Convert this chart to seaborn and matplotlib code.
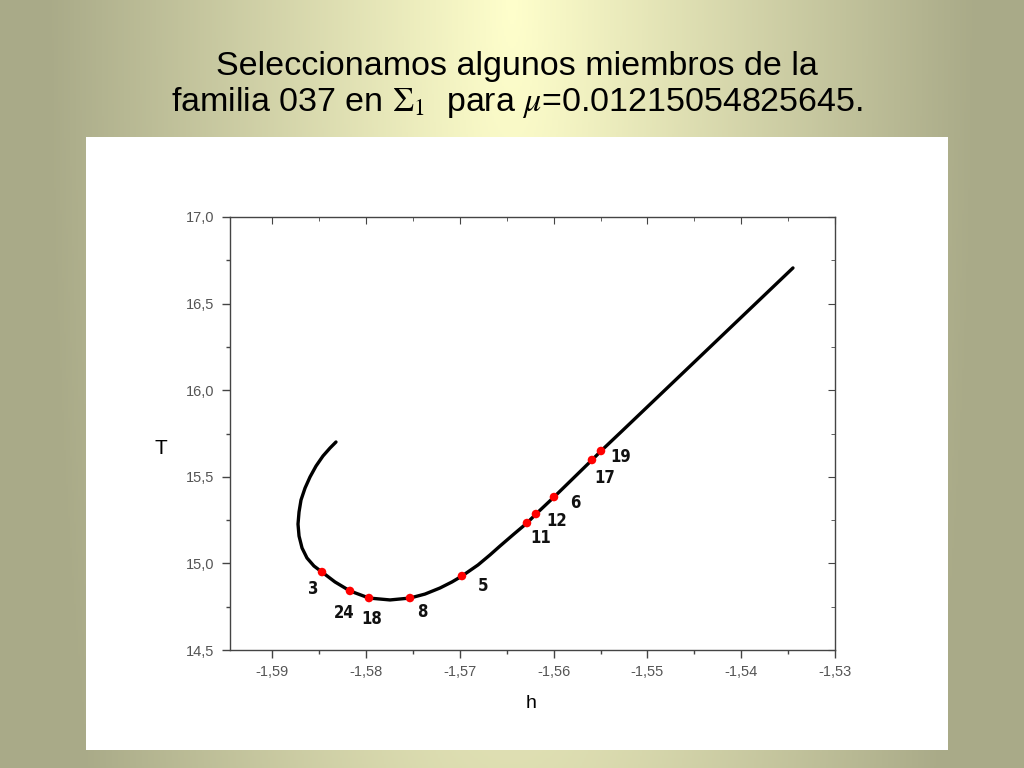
import matplotlib
matplotlib.use("Agg")
import matplotlib.pyplot as plt
import matplotlib.ticker as mticker
import numpy as np
import pandas as pd
import seaborn as sns

# family 037 curve (h, T)
curve_h = [-1.58320, -1.58384, -1.58459, -1.58533, -1.58597, -1.58650, -1.58693,
           -1.58714, -1.58725, -1.58714, -1.58682, -1.58629, -1.58555, -1.58469,
           -1.58331, -1.58171, -1.57968, -1.57744, -1.57531, -1.57371, -1.57211,
           -1.57083, -1.56977, -1.56806, -1.56678, -1.56572, -1.56422, -1.56284,
           -1.56188, -1.55996, -1.55591, -1.55495, -1.55271, -1.53448]
curve_T = [15.701, 15.666, 15.620, 15.562, 15.499, 15.435, 15.366,
           15.297, 15.227, 15.158, 15.089, 15.031, 14.985, 14.950,
           14.893, 14.841, 14.800, 14.789, 14.800, 14.823, 14.858,
           14.893, 14.927, 14.991, 15.049, 15.100, 15.170, 15.233,
           15.285, 15.383, 15.597, 15.649, 15.764, 16.706]

# selected members (red dots)
member_ids = ["3", "24", "18", "8", "5", "11", "12", "6", "17", "19"]
member_h = [-1.58469, -1.58171, -1.57968, -1.57531, -1.56977,
            -1.56284, -1.56188, -1.55996, -1.55591, -1.55495]
member_T = [14.950, 14.841, 14.800, 14.800, 14.927,
            15.233, 15.285, 15.383, 15.597, 15.649]
# label offsets in points
label_offsets = [(-6, -12), (-4, -16), (2, -15), (9, -10), (15, -7),
                 (10, -11), (15, -5), (15, -4), (9, -13), (14, -4)]

sns.set_style("ticks")
plt.rcParams["axes.unicode_minus"] = False
plt.rcParams["mathtext.fontset"] = "stix"
plt.rcParams["font.family"] = ["Liberation Sans", "DejaVu Sans"]

fig = plt.figure(figsize=(10.24, 7.68), dpi=100)

# background gradient: light yellow centre to olive edges
bg = fig.add_axes([0, 0, 1, 1])
xs = np.linspace(0, 1, 512)
ys = np.linspace(0, 1, 384)
X, Y = np.meshgrid(xs, ys)
d = np.clip(np.sqrt(((X - 0.5) * 2) ** 2 + (Y * 0.35) ** 2) * 1.1, 0, 1)
light = np.array([255, 255, 204]) / 255
edge = np.array([169, 170, 136]) / 255
img = light[None, None, :] * (1 - d[..., None]) + edge[None, None, :] * d[..., None]
bg.imshow(img, aspect="auto", extent=[0, 1, 0, 1], origin="upper")
bg.set_axis_off()

# white panel
panel = fig.add_axes([86 / 1024, 18 / 768, 862 / 1024, 613 / 768])
panel.set_facecolor("white")
panel.set_xticks([])
panel.set_yticks([])
for s in panel.spines.values():
    s.set_visible(False)

fig.text(0.505, 0.914, "Seleccionamos algunos miembros de la",
         ha="center", va="center", fontsize=24.5, color="black")
fig.text(0.505, 0.867, r"familia 037 en $\Sigma_1$  para $\mu$=0.01215054825645.",
         ha="center", va="center", fontsize=24.5, color="black")

ax = fig.add_axes([230 / 1024, 118 / 768, 605 / 1024, 433 / 768])
ax.set_facecolor("white")

curve = pd.DataFrame({"h": curve_h, "T": curve_T})
members = pd.DataFrame({"h": member_h, "T": member_T, "id": member_ids})

sns.lineplot(data=curve, x="h", y="T", sort=False, estimator=None,
             color="black", linewidth=2.4, solid_capstyle="round",
             solid_joinstyle="round", ax=ax)
sns.scatterplot(data=members, x="h", y="T", color="red", s=38,
                edgecolor="none", zorder=3, ax=ax)
for (lbl, hx, ty), off in zip(zip(member_ids, member_h, member_T), label_offsets):
    ax.annotate(lbl, (hx, ty), xytext=off, textcoords="offset points",
                ha="center", va="center", fontsize=12, fontweight="bold",
                fontstretch="condensed", family=["DejaVu Sans"], color="#111111")

ax.set_xlim(-1.5945, -1.53)
ax.set_ylim(14.5, 17.0)
ax.xaxis.set_major_locator(mticker.MultipleLocator(0.01))
ax.xaxis.set_minor_locator(mticker.MultipleLocator(0.005))
ax.yaxis.set_major_locator(mticker.MultipleLocator(0.5))
ax.yaxis.set_minor_locator(mticker.MultipleLocator(0.25))
ax.xaxis.set_major_formatter(mticker.FuncFormatter(lambda v, p: f"{v:.2f}".replace(".", ",")))
ax.yaxis.set_major_formatter(mticker.FuncFormatter(lambda v, p: f"{v:.1f}".replace(".", ",")))

for s in ax.spines.values():
    s.set_visible(True)
    s.set_color("#444444")
    s.set_linewidth(1.0)

ax.tick_params(which="both", direction="out", colors="#444444", labelcolor="#555555",
               labelsize=10.5, top=False, right=False)
ax.tick_params(which="major", length=6, width=1, pad=5)
ax.tick_params(which="minor", length=3, width=1)

# inward ticks on the top and right edges
ax_top = ax.secondary_xaxis("top")
ax_top.xaxis.set_major_locator(mticker.MultipleLocator(0.01))
ax_top.xaxis.set_minor_locator(mticker.MultipleLocator(0.005))
ax_top.tick_params(which="both", direction="in", colors="#444444", labeltop=False)
ax_top.tick_params(which="major", length=5)
ax_top.tick_params(which="minor", length=3)
ax_top.spines["top"].set_visible(False)
ax_right = ax.secondary_yaxis("right")
ax_right.yaxis.set_major_locator(mticker.MultipleLocator(0.5))
ax_right.yaxis.set_minor_locator(mticker.MultipleLocator(0.25))
ax_right.tick_params(which="both", direction="in", colors="#444444", labelright=False)
ax_right.tick_params(which="major", length=5)
ax_right.tick_params(which="minor", length=3)
ax_right.spines["right"].set_visible(False)

ax.set_xlabel("h", fontsize=14, color="black")
ax.xaxis.set_label_coords((531 - 230) / 605, -(703 - 650) / 433)
ax.set_ylabel("T", fontsize=15, color="black", rotation=0, va="center", ha="center")
ax.yaxis.set_label_coords((161 - 230) / 605, (650 - 448) / 433)
ax.xaxis.label.set_va("center")

fig.savefig("out.png", dpi=100)
